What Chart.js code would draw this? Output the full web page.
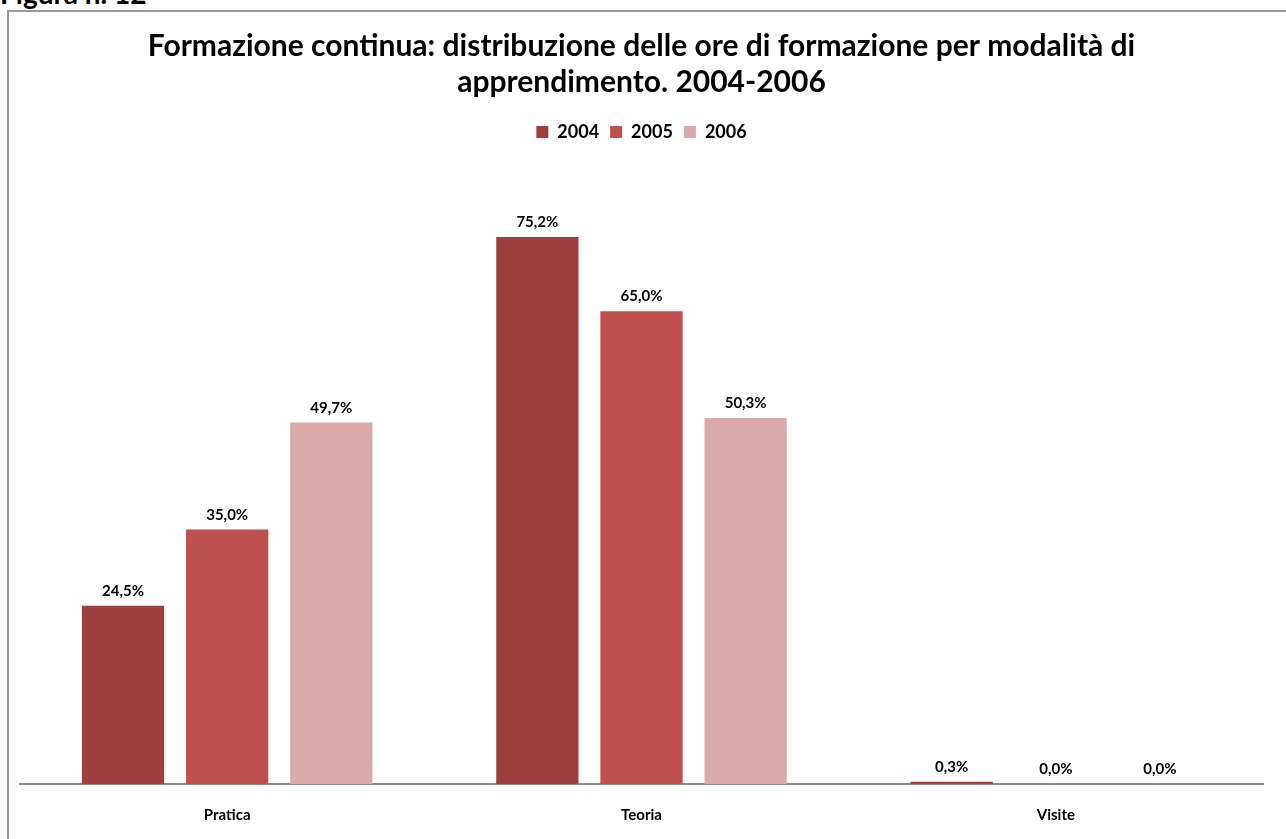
<!DOCTYPE html>
<html>
<head>
<meta charset="utf-8">
<script src="https://cdn.jsdelivr.net/npm/chart.js@4"></script>
<style>
    html, body { margin: 0; padding: 0; background: #fff; overflow: hidden; }
    body { width: 1286px; height: 839px; position: relative; font-family: Lato, sans-serif; }
    #figLabel { position: absolute; left: 0; top: -24px; font-weight: bold; font-size: 28px; color: #000; white-space: nowrap; }
    #frame { position: absolute; left: 7px; top: 10px; width: 1300px; height: 850px; border: 2px solid #9a9a9a; box-sizing: border-box; }
    #wrap { position: absolute; left: 0; top: 0; width: 1286px; height: 839px; }
</style>
</head>
<body>
<div id="figLabel">Figura n. 12</div>
<div id="frame"></div>
<div id="wrap"><canvas id="chart"></canvas></div>
<script>
// dati
const categories = ['Pratica', 'Teoria', 'Visite'];
const years = ['2004', '2005', '2006'];
const values2004 = [24.5, 75.2, 0.3];
const values2005 = [35.0, 65.0, 0.0];
const values2006 = [49.7, 50.3, 0.0];
const colors = ['#9c3f3d', '#c0504d', '#d9aaa9'];

const FONT = 'Lato, "Liberation Sans", sans-serif';

// etichette sopra le barre (formato italiano)
const barLabels = {
    id: 'barLabels',
    afterDatasetsDraw(chart) {
        const ctx = chart.ctx;
        ctx.save();
        ctx.font = 'bold 15px ' + FONT;
        ctx.fillStyle = '#000';
        ctx.textAlign = 'center';
        ctx.textBaseline = 'bottom';
        chart.data.datasets.forEach((ds, i) => {
            chart.getDatasetMeta(i).data.forEach((bar, j) => {
                const txt = ds.data[j].toFixed(1).replace('.', ',') + '%';
                ctx.fillText(txt, bar.x, bar.y - 7);
            });
        });
        ctx.restore();
    }
};

// spazio extra sotto la legenda
const legendGap = {
    id: 'legendGap',
    beforeInit(chart) {
        const fit = chart.legend.fit;
        chart.legend.fit = function () {
            fit.bind(chart.legend)();
            this.height += 51;
        };
    }
};

const ctx = document.getElementById('chart').getContext('2d');
new Chart(ctx, {
    type: 'bar',
    data: {
        labels: categories,
        datasets: [
            { label: years[0], data: values2004, backgroundColor: colors[0] },
            { label: years[1], data: values2005, backgroundColor: colors[1] },
            { label: years[2], data: values2006, backgroundColor: colors[2] }
        ]
    },
    options: {
        responsive: true,
        maintainAspectRatio: false,
        animation: false,
        categoryPercentage: 0.754,
        barPercentage: 0.79,
        layout: { padding: { left: 20, right: 23, top: 0, bottom: 0 } },
        scales: {
            x: {
                grid: { display: true, color: 'transparent', drawTicks: false },
                border: { display: true, color: '#8c8c8c', width: 2 },
                ticks: { color: '#000', padding: 22, font: { family: FONT, size: 15, weight: 'bold' } },
                afterFit(scale) { scale.height = 55; }
            },
            y: {
                display: false,
                min: 0,
                max: 80
            }
        },
        plugins: {
            title: {
                display: true,
                text: ['Formazione continua: distribuzione delle ore di formazione per modalità di', 'apprendimento. 2004-2006'],
                color: '#000',
                font: { family: FONT, size: 30, weight: 'bold', lineHeight: 1.2 },
                padding: { top: 28, bottom: 12 }
            },
            legend: {
                display: true,
                labels: {
                    color: '#000',
                    boxWidth: 12,
                    boxHeight: 12,
                    padding: 11,
                    font: { family: FONT, size: 18, weight: 'bold' }
                }
            },
            tooltip: { enabled: false }
        }
    },
    plugins: [barLabels, legendGap]
});
</script>
</body>
</html>
